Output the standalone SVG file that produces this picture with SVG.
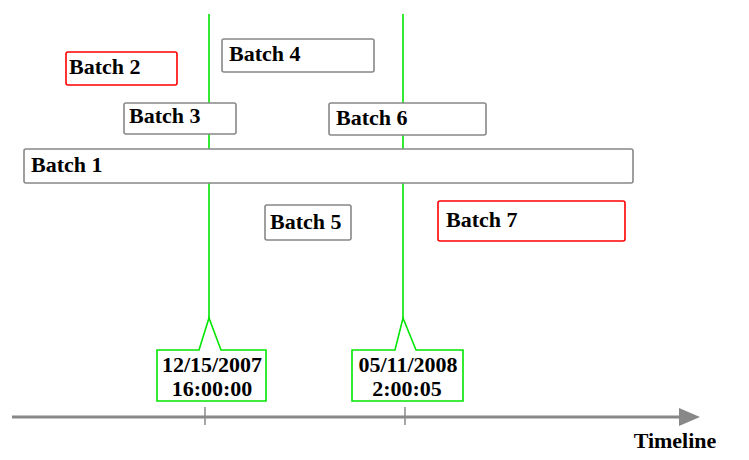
<svg xmlns="http://www.w3.org/2000/svg" width="749" height="460" viewBox="0 0 749 460">
<style>
text{font-family:"Liberation Serif","Times New Roman",serif;font-weight:bold;font-size:22px;fill:#000}
.box{fill:#fff;stroke:#888;stroke-width:1.6}
.red{fill:#fff;stroke:#f00;stroke-width:1.6}
.g{stroke:#00e600;stroke-width:1.6;fill:none}
.call{fill:#fff;stroke:#00e600;stroke-width:1.6}
.tl{stroke:#888;stroke-width:3;fill:none}
.tick{stroke:#888;stroke-width:1.5}
.c{text-anchor:middle}
</style>
<defs>
<marker id="ah" markerWidth="8" markerHeight="6" refX="0" refY="3" orient="auto" markerUnits="strokeWidth"><path d="M0,0 L7,3 L0,6 Z" fill="#888"/></marker>
</defs>
<g id="connectors">
<line class="g" x1="209" y1="14" x2="209" y2="318"/>
<line class="g" x1="403" y1="14" x2="403" y2="318"/>
</g>
<g id="timeline">
<line class="tl" x1="12" y1="417" x2="679" y2="417" marker-end="url(#ah)"/>
<line class="tick" x1="205" y1="407" x2="205" y2="425"/>
<line class="tick" x1="405" y1="407" x2="405" y2="425"/>
<text x="675" y="448" class="c">Timeline</text>
</g>
<g id="batch2"><rect class="red" x="66" y="52" width="111" height="33" rx="2"/><text x="69" y="74">Batch 2</text></g>
<g id="batch4"><rect class="box" x="222" y="39" width="152" height="33" rx="2"/><text x="229" y="61">Batch 4</text></g>
<g id="batch3"><rect class="box" x="124" y="103" width="112" height="31" rx="2"/><text x="129" y="123">Batch 3</text></g>
<g id="batch6"><rect class="box" x="329" y="103" width="157" height="32" rx="2"/><text x="336" y="125">Batch 6</text></g>
<g id="batch1"><rect class="box" x="24" y="149" width="609" height="34" rx="2"/><text x="31" y="172">Batch 1</text></g>
<g id="batch5"><rect class="box" x="265" y="205" width="86" height="35" rx="2"/><text x="270" y="229">Batch 5</text></g>
<g id="batch7"><rect class="red" x="438" y="201" width="187" height="40" rx="2"/><text x="446" y="227">Batch 7</text></g>
<g id="date1"><path class="call" d="M157,350 H199 L209,318 L221,350 H266 V401 H157 Z"/><text x="212" y="372" class="c">12/15/2007</text><text x="212" y="396" class="c">16:00:00</text></g>
<g id="date2"><path class="call" d="M352,350 H395 L403,318 L416,350 H463 V401 H352 Z"/><text x="408" y="372" class="c">05/11/2008</text><text x="407" y="396" class="c">2:00:05</text></g>
</svg>
